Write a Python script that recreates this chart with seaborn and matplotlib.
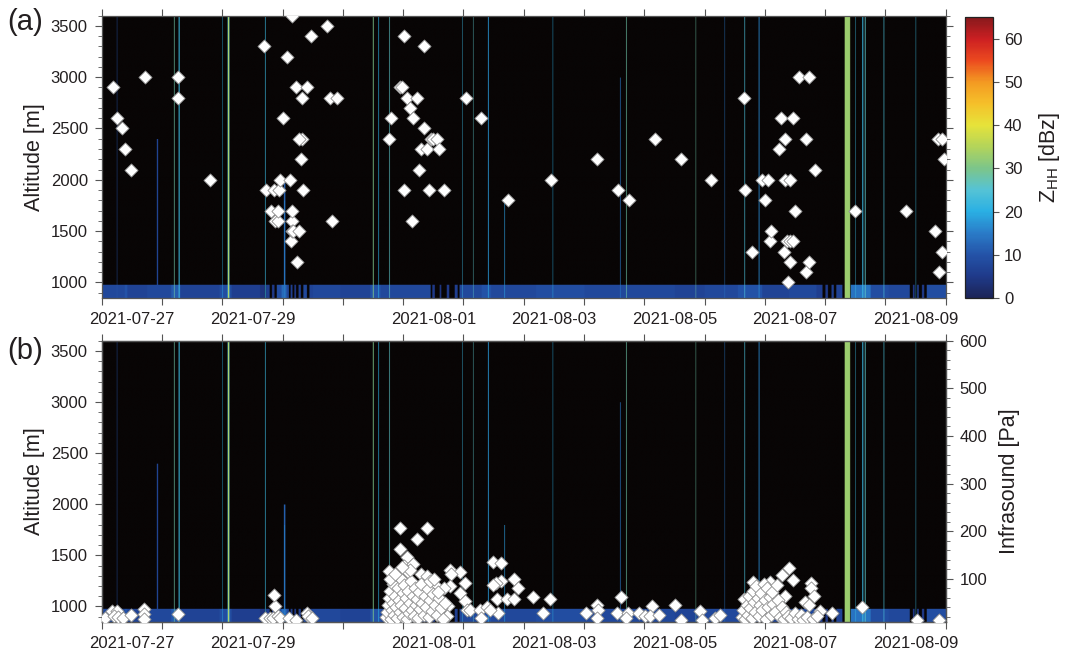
import numpy as np
import pandas as pd
import matplotlib
matplotlib.use("Agg")
import matplotlib.pyplot as plt
import matplotlib.dates as mdates
from matplotlib.ticker import MultipleLocator
from matplotlib.colors import LinearSegmentedColormap
import seaborn as sns

# ------------------------------------------------------------------ data
START = "2021-07-27"
N_DAYS = 14
xtick_days = [0, 2, 5, 7, 9, 11, 13]
xtick_text = ["2021-07-27", "2021-07-29", "2021-08-01", "2021-08-03",
              "2021-08-05", "2021-08-07", "2021-08-09"]

# colour scale of Z_HH (dBz)
cb_levels = [0, 5, 10, 15, 20, 25, 30, 35, 40, 45, 50, 55, 60, 65]
cb_colors = ["#1c2457", "#1f3a8a", "#2453a8", "#2a7cc8", "#2ab0e4", "#55c3d5",
             "#7cc58a", "#b3d45a", "#e6e33a", "#f5c02a", "#f39a22", "#ec4a1f",
             "#cc1f22", "#86191c"]

# lowest radar gate (850-980 m): echo segments (days since start, dBz)
band_start = [0.00, 0.38, 0.42, 0.75, 1.15, 1.30, 1.95, 2.15, 2.62, 2.72, 2.82, 2.90,
              2.98, 3.06, 3.13, 3.19, 3.26, 3.34, 3.44, 3.50, 3.95, 4.45, 4.62, 5.48,
              5.60, 5.72, 5.85, 5.93, 6.30, 6.45, 7.20, 8.00, 9.50, 10.00, 10.55,
              10.95, 11.40, 11.85, 12.00, 12.10, 12.18, 12.42, 12.75, 13.05, 13.45,
              13.52, 13.60, 13.68]
band_end = [0.38, 0.42, 0.75, 1.15, 1.30, 1.95, 2.15, 2.62, 2.70, 2.78, 2.86, 2.98,
            3.06, 3.10, 3.16, 3.22, 3.30, 3.40, 3.50, 3.95, 4.45, 4.62, 5.45, 5.52,
            5.63, 5.76, 5.90, 6.30, 6.45, 7.20, 8.00, 9.50, 10.00, 10.55, 10.95,
            11.40, 11.85, 11.95, 12.04, 12.14, 12.28, 12.75, 13.05, 13.40, 13.48,
            13.55, 13.64, 14.00]
band_dbz = [8, 10, 7, 8, 11, 7, 9, 6, 4, 6, 5, 9,
            13, 8, 6, 5, 6, 8, 7, 8, 7, 10, 8, 5,
            4, 5, 6, 8, 10, 8, 9, 8, 7, 8, 10,
            7, 8, 6, 5, 6, 7, 14, 9, 8, 5,
            6, 5, 9]

# vertical echo columns (centre day, width in days, dBz, top altitude m)
stripe_day = [0.25, 0.92, 1.20, 1.28, 2.00, 2.10, 2.10, 2.71, 3.03, 3.03,
              4.50, 4.59, 4.77, 5.98, 6.16, 6.41, 6.68, 7.48, 8.60, 8.70,
              9.85, 10.33, 10.66, 10.90, 12.365, 12.50, 12.62, 12.66, 12.97, 13.50]
stripe_width = [0.01, 0.02, 0.012, 0.016, 0.01, 0.03, 0.012, 0.012, 0.025, 0.012,
                0.015, 0.01, 0.01, 0.008, 0.008, 0.012, 0.01, 0.008, 0.01, 0.008,
                0.008, 0.008, 0.01, 0.014, 0.09, 0.01, 0.02, 0.015, 0.008, 0.01]
stripe_dbz = [10, 8, 28, 22, 20, 24, 38, 22, 12, 16,
              30, 20, 26, 22, 26, 18, 18, 20, 14, 28,
              28, 14, 24, 16, 33, 22, 22, 26, 24, 22]
stripe_top = [3600, 2400, 3600, 3600, 3600, 3600, 3600, 3600, 2000, 1800,
              3600, 3600, 3600, 3600, 3600, 3600, 1800, 3600, 3000, 3600,
              3600, 3600, 3600, 3600, 3600, 3600, 3600, 3600, 3600, 3600]

# (a) plume heights: days since start, altitude (m)
top_day = [0.18, 0.25, 0.34, 0.39, 0.49, 0.71, 1.27, 1.27, 1.79,
           2.70, 2.72, 2.81, 2.85, 2.87, 2.92, 2.93, 2.94, 2.96, 3.00,
           3.08, 3.13, 3.14, 3.15, 3.15, 3.16, 3.16, 3.18, 3.22, 3.24,
           3.27, 3.31, 3.32, 3.28, 3.32, 3.34, 3.41, 3.48, 3.73, 3.79, 3.82, 3.91,
           4.76, 4.80, 4.95, 4.98, 5.01, 5.01, 5.06, 5.11, 5.14, 5.17,
           5.23, 5.27, 5.30, 5.34, 5.34, 5.40, 5.43, 5.46, 5.50, 5.56,
           5.60, 5.67, 6.04, 6.30, 6.74,
           7.46, 8.22, 8.56, 8.74, 9.18, 9.61, 10.11,
           10.66, 10.67, 10.78, 10.96, 11.01, 11.05, 11.09, 11.11, 11.24, 11.26,
           11.32, 11.33, 11.34, 11.37, 11.38, 11.42, 11.42, 11.42, 11.47, 11.47,
           11.50, 11.56, 11.68, 11.69, 11.74, 11.74, 11.84, 12.49, 13.34, 13.82,
           13.87, 13.89, 13.94, 13.94, 13.98]
top_alt = [2900, 2600, 2500, 2300, 2100, 3000, 3000, 2800, 2000,
           3300, 1900, 1700, 1900, 1600, 1600, 1700, 1900, 2000, 2600,
           3200, 2000, 1400, 1600, 1500, 1700, 3600, 1500, 2900, 1200,
           1500, 2200, 2400, 2400, 2800, 1900, 2900, 3400, 3500, 2800, 1600, 2800,
           2400, 2600, 2900, 2900, 3400, 1900, 2800, 2700, 1600, 2600,
           2800, 2100, 2300, 2500, 3300, 2300, 1900, 2400, 2400, 2400,
           2300, 1900, 2800, 2600, 1800,
           2000, 2200, 1900, 1800, 2400, 2200, 2000,
           2800, 1900, 1300, 2000, 1800, 2000, 1400, 1500, 2300, 2600,
           1300, 2000, 2400, 1400, 1000, 2000, 1200, 1400, 1400, 2600,
           1700, 3000, 1100, 2400, 3000, 1200, 2100, 1700, 1700, 1500,
           2400, 1100, 2400, 1300, 2200]

# (b) infrasound amplitudes: days since start, Pa
inf_day = [0.06, 0.17, 0.25, 0.20, 0.27, 0.36, 0.49, 0.70, 0.70, 0.70, 1.27,
           2.71, 2.79, 2.84, 2.87, 2.86, 2.93, 2.96, 3.10, 3.22, 3.40, 3.43, 3.49,
           4.77, 4.95, 5.40, 5.23, 4.95, 5.06, 5.01, 5.17, 5.08, 5.30, 5.40, 5.78,
           5.95, 5.79, 6.49, 6.62, 6.84, 6.90, 7.16, 7.44, 7.32, 6.56, 6.72, 6.84,
           6.62, 6.54, 6.49, 6.58, 6.03, 5.95, 6.03, 6.06, 5.77, 5.56, 5.67, 5.32,
           5.75, 5.73, 6.11, 6.28, 6.39, 6.44, 6.29,
           4.72, 4.74, 4.75, 4.76, 4.78, 4.80, 4.81, 4.83, 4.84, 4.85, 4.87, 4.88,
           4.90, 4.91, 4.93, 4.94, 4.96, 4.97, 4.99, 5.00, 5.02, 5.03, 5.05, 5.06,
           5.08, 5.10, 5.11, 5.13, 5.15, 5.16, 5.18, 5.20, 5.21, 5.23, 5.25, 5.27,
           5.28, 5.30, 5.32, 5.34, 5.36, 5.38, 5.41, 5.43, 5.45, 5.48, 5.50, 5.53,
           5.56, 5.60, 5.63, 5.66, 5.70, 4.79, 4.86, 5.12, 4.98, 5.45, 5.52, 5.58,
           8.04, 8.22, 8.24, 8.22, 8.62, 8.55, 8.73, 8.69, 8.91, 9.01, 9.13, 9.10,
           9.24, 9.51, 9.61, 9.93, 9.96, 10.18, 10.26,
           10.66, 10.81, 11.09, 11.29, 11.40, 11.47, 11.76, 11.76, 11.34, 11.81,
           11.67, 11.73, 11.92, 12.12, 12.61, 13.53, 13.89,
           10.62, 10.64, 10.67, 10.70, 10.72, 10.74, 10.76, 10.78, 10.80, 10.82,
           10.84, 10.86, 10.88, 10.90, 10.92, 10.94, 10.96, 10.98, 11.00, 11.02,
           11.04, 11.06, 11.08, 11.10, 11.12, 11.14, 11.17, 11.20, 11.22, 11.25,
           11.28, 11.31, 11.35, 11.38, 11.44, 11.50, 11.55, 11.60, 11.64, 11.70,
           11.80, 11.86]
inf_pa = [17, 33, 33, 22, 20, 18, 24, 37, 26, 16, 27,
          17, 17, 17, 44, 66, 22, 17, 17, 14, 29, 22, 17,
          117, 206, 206, 184, 163, 146, 128, 132, 115, 111, 107, 119,
          115, 111, 136, 134, 99, 80, 61, 58, 29, 58, 58, 58,
          96, 91, 88, 29, 91, 70, 54, 35, 84, 83, 80, 84,
          43, 22, 35, 35, 40, 35, 18,
          20, 30, 45, 60, 75, 15, 35, 50, 90, 25, 65, 40,
          18, 80, 55, 30, 100, 45, 70, 20, 88, 38, 60, 15,
          75, 28, 50, 95, 35, 65, 22, 80, 45, 58, 18, 72,
          36, 90, 50, 25, 65, 40, 78, 20, 55, 32, 68, 45,
          25, 60, 38, 15, 50, 100, 110, 118, 125, 95, 100, 72,
          29, 45, 35, 18, 61, 29, 29, 18, 29, 22, 43, 22,
          25, 45, 13, 32, 13, 17, 24,
          57, 94, 94, 108, 123, 98, 92, 80, 63, 63,
          52, 45, 33, 28, 40, 14, 14,
          20, 35, 15, 45, 25, 65, 38, 18, 75, 52,
          30, 85, 60, 22, 45, 70, 35, 90, 55, 15,
          80, 40, 62, 25, 72, 48, 30, 88, 55, 20,
          40, 15, 30, 22, 18, 28, 15, 25, 14, 20,
          16, 22]

# ------------------------------------------------------------------ style
sns.set_theme(style="ticks")
plt.rcParams["font.family"] = ["Liberation Sans", "DejaVu Sans"]
plt.rcParams["mathtext.fontset"] = "custom"
plt.rcParams["mathtext.rm"] = "Liberation Sans"
TXT = "#231f20"
EDGE = "#555555"
plt.rcParams.update({"text.color": TXT, "axes.labelcolor": TXT,
                     "xtick.color": EDGE, "ytick.color": EDGE,
                     "xtick.labelcolor": TXT, "ytick.labelcolor": TXT,
                     "axes.edgecolor": EDGE})

cmap = LinearSegmentedColormap.from_list(
    "zhh", [(l / 65.0, c) for l, c in zip(cb_levels, cb_colors)])
cmap.set_bad("#080505")

# ------------------------------------------------------------------ field
t0 = mdates.date2num(pd.Timestamp(START))
t1 = t0 + N_DAYS
nt = N_DAYS * 288
tc = (np.arange(nt) + 0.5) / 288.0
z_edges = np.arange(850, 3601, 10)
zc = z_edges[:-1] + 5
field = np.full((len(zc), nt), np.nan)
band_rows = zc < 980
for s, e, v in zip(band_start, band_end, band_dbz):
    m = (tc >= s) & (tc < e)
    field[np.ix_(band_rows, m)] = v
for d, w, v, top in zip(stripe_day, stripe_width, stripe_dbz, stripe_top):
    m = np.abs(tc - d) <= w / 2
    if not m.any():
        m[np.argmin(np.abs(tc - d))] = True
    field[np.ix_(zc <= top, m)] = v
field = np.ma.masked_invalid(field)

# ------------------------------------------------------------------ figure
W, H = 1065, 653
fig = plt.figure(figsize=(W / 100, H / 100), dpi=100)
fig.patch.set_facecolor("white")


def fax(x0, y0, x1, y1):
    return fig.add_axes([x0 / W, 1 - y1 / H, (x1 - x0) / W, (y1 - y0) / H])


ax_a = fax(101.7, 15.7, 945.7, 297.7)
ax_b = fax(101.7, 340.7, 945.7, 621.7)
cax = fax(965, 17, 993, 298)

top_df = pd.DataFrame({"t": t0 + np.array(top_day), "alt": top_alt})
inf_df = pd.DataFrame({"t": t0 + np.array(inf_day), "pa": inf_pa})

for ax in (ax_a, ax_b):
    im = ax.imshow(field, extent=[t0, t1, 850, 3600], origin="lower",
                   aspect="auto", cmap=cmap, vmin=0, vmax=65,
                   interpolation="antialiased", interpolation_stage="rgba",
                   zorder=1)
    ax.set_xlim(t0, t1)
    ax.set_ylim(850, 3600)
    ax.set_xticks(t0 + np.arange(N_DAYS + 1))
    ax.set_xticklabels([])
    ax.set_xticks(t0 + np.array(xtick_days) + 0.5, labels=xtick_text, minor=True)
    ax.yaxis.set_major_locator(MultipleLocator(500))
    ax.yaxis.set_minor_locator(MultipleLocator(100))
    ax.tick_params(axis="x", which="major", direction="out", length=5, width=0.8,
                   top=True, bottom=True)
    ax.tick_params(axis="x", which="minor", length=0, pad=10, labelsize=12)
    ax.tick_params(axis="y", which="major", direction="out", length=5, width=0.8,
                   labelsize=12, pad=5)
    ax.tick_params(axis="y", which="minor", direction="out", length=3, width=0.6)
    for sp in ax.spines.values():
        sp.set_visible(True)
        sp.set_linewidth(0.9)
        sp.set_color(EDGE)

ax_a.tick_params(axis="y", which="both", right=True)

sns.scatterplot(data=top_df, x="t", y="alt", ax=ax_a, marker="D", s=45,
                color="white", edgecolor="#8c8c8c", linewidth=0.6, zorder=3)
ax_a.set_xlabel("")
ax_a.set_ylabel("Altitude [m]", fontsize=15.5, labelpad=4)
ax_a.set_xlim(t0, t1)
ax_a.set_ylim(850, 3600)

ax2 = ax_b.twinx()
sns.scatterplot(data=inf_df, x="t", y="pa", ax=ax2, marker="D", s=45,
                color="white", edgecolor="#8c8c8c", linewidth=0.6, zorder=3)
ax2.set_ylim(10, 600)
ax2.set_xlim(t0, t1)
ax2.set_xlabel("")
ax2.yaxis.set_major_locator(MultipleLocator(100))
ax2.yaxis.set_minor_locator(MultipleLocator(20))
ax2.tick_params(axis="y", which="major", direction="out", length=5, width=0.8,
                labelsize=12, pad=5)
ax2.tick_params(axis="y", which="minor", direction="out", length=3, width=0.6)
ax2.set_ylabel("Infrasound [Pa]", fontsize=15.5, labelpad=8)
for sp in ax2.spines.values():
    sp.set_linewidth(0.9)
    sp.set_color(EDGE)
ax_b.set_xlabel("")
ax_b.set_ylabel("Altitude [m]", fontsize=15.5, labelpad=4)

cb = fig.colorbar(im, cax=cax, ticks=range(0, 61, 10))
cb.outline.set_edgecolor("#222222")
cb.outline.set_linewidth(0.9)
cax.tick_params(direction="out", length=4, width=0.8, labelsize=12, pad=4)
cb.set_label(r"Z$_{\mathregular{HH}}$ [dBz]", fontsize=15.5, labelpad=10)

fig.text(7 / W, 1 - 22 / H, "(a)", fontsize=21, va="center", ha="left")
fig.text(7 / W, 1 - 351 / H, "(b)", fontsize=21, va="center", ha="left")

fig.savefig("out.png", dpi=100, facecolor="white")
